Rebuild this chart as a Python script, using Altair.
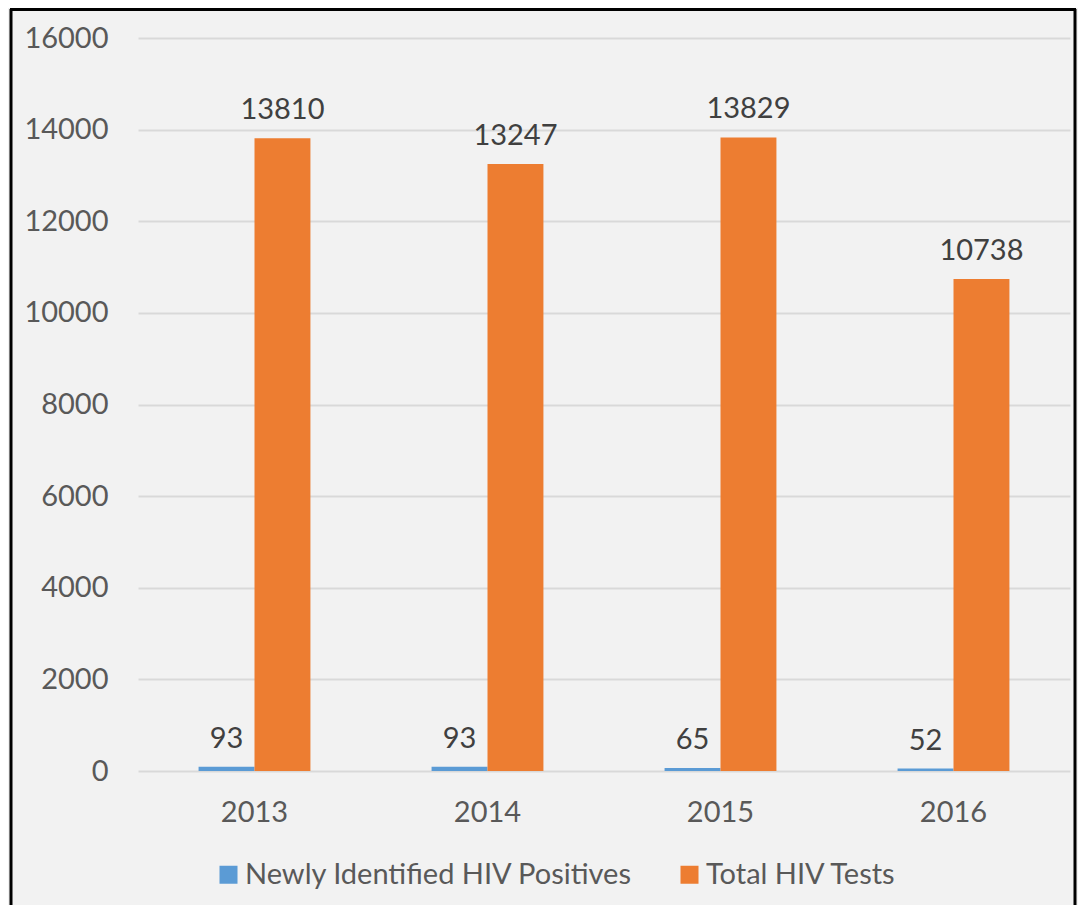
import altair as alt
import pandas as pd

years = ["2013", "2014", "2015", "2016"]
series = ["Newly Identified HIV Positives", "Total HIV Tests"]
positives = [93, 93, 65, 52]
tests = [13810, 13247, 13829, 10738]
colors = ["#5b9bd5", "#ed7d31"]

rows = []
for i, y in enumerate(years):
    rows.append({"year": y, "series": series[0], "value": positives[i]})
    rows.append({"year": y, "series": series[1], "value": tests[i]})
df = pd.DataFrame(rows)

W, H = 932, 733
PL, PT, PR, PB = 130, 30, 8, 134
FONT = "Lato"
FS = 29

x = alt.X("year:N", sort=years, title=None,
          scale=alt.Scale(paddingInner=0.52, paddingOuter=0.26),
          axis=alt.Axis(labelAngle=0, labelFontSize=FS, labelColor="#595959",
                        labelPadding=27, ticks=False, domain=False, labelFont=FONT))
xo = alt.XOffset("series:N", sort=series, scale=alt.Scale(paddingInner=0, paddingOuter=0))
y = alt.Y("value:Q", title=None,
          scale=alt.Scale(domain=[0, 16000], nice=False),
          axis=alt.Axis(values=list(range(0, 16001, 2000)), format="d", labelFontSize=FS,
                        labelColor="#595959", labelPadding=30, ticks=False, domain=False,
                        gridColor="#d9d9d9", gridWidth=2, labelFont=FONT))
color = alt.Color("series:N", sort=series, title=None,
                  scale=alt.Scale(domain=series, range=colors),
                  legend=alt.Legend(orient="none", legendX=76, legendY=822,
                                    direction="horizontal", symbolType="square",
                                    symbolSize=324, symbolStrokeWidth=0,
                                    labelFontSize=FS, labelColor="#595959", labelLimit=0,
                                    labelFont=FONT, columnPadding=42, labelOffset=2))

base = alt.Chart(df)
bars = base.mark_bar().encode(x=x, xOffset=xo, y=y, color=color)
labels = base.mark_text(baseline="bottom", dy=-13, fontSize=FS, color="#404040",
                        font=FONT).encode(
    x=x, xOffset=xo, y=y, text=alt.Text("value:Q", format="d"))

frame_df = pd.DataFrame({"a": [0]})
fb = alt.Chart(frame_df)
left = fb.mark_rule(color="black", strokeWidth=3).encode(
    x=alt.value(-PL + 3), y=alt.value(-PT + 1), y2=alt.value(H + PB))
top = fb.mark_rule(color="black", strokeWidth=3).encode(
    x=alt.value(-PL + 2), x2=alt.value(W + PR - 2), y=alt.value(-PT + 1.5))
right = fb.mark_rule(color="black", strokeWidth=3).encode(
    x=alt.value(W + PR - 3), y=alt.value(-PT + 1), y2=alt.value(H + PB))

chart = alt.layer(bars, labels, left, top, right).properties(
    width=W, height=H,
    autosize=alt.AutoSizeParams(type="none"),
    padding={"left": PL, "top": PT, "right": PR, "bottom": PB},
    background="#f2f2f2",
).configure_view(stroke=None).configure_axis(gridColor="#d9d9d9")

chart.save("out.html", embed_options={"renderer": "svg", "actions": False})
